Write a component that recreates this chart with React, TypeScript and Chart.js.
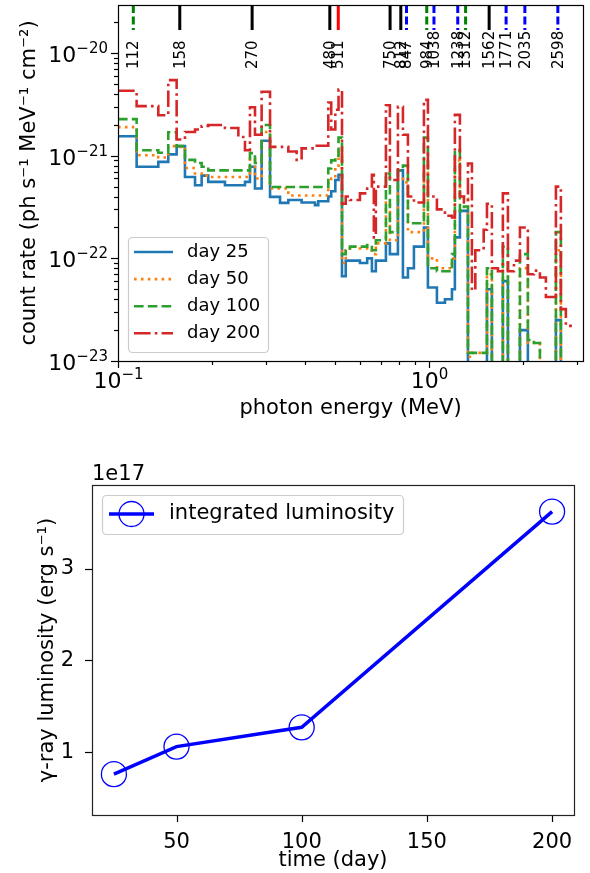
import React, { useEffect, useRef } from 'react';
import { Chart, registerables } from 'chart.js';

Chart.register(...registerables);

const FONT = '"DejaVu Sans", sans-serif';

// ---------- spectrum data (bin edges in MeV, count rates per bin) ----------
const binEdgesMeV = [
  0.1, 0.1148, 0.1348, 0.1451, 0.1544, 0.1642, 0.1769, 0.1858, 0.1951, 0.2208,
  0.2438, 0.2561, 0.2657, 0.2758, 0.2897, 0.3083, 0.332, 0.353, 0.3755, 0.3896,
  0.43, 0.4406, 0.4746, 0.485, 0.5, 0.512, 0.5253, 0.54, 0.557, 0.6,
  0.633, 0.6556, 0.665, 0.675, 0.7273, 0.749, 0.7949, 0.8249, 0.8559, 0.8948,
  0.9636, 0.9926, 1.061, 1.126, 1.186, 1.212, 1.258, 1.296, 1.335, 1.375,
  1.41, 1.5, 1.537, 1.594, 1.667, 1.729, 1.795, 1.877, 1.962, 2.081,
  2.176, 2.275, 2.378, 2.486, 2.561, 2.657, 2.757, 2.883,
];

const rateDay25 = [
  15.5e-22, 7.8e-22, 8.7e-22, 10.3e-22, 12.4e-22, 6.2e-22, 5.15e-22, 6.4e-22, 5.56e-22, 5.15e-22,
  5.15e-22, 5.56e-22, 7.8e-22, 4.8e-22, 14e-22, 3.97e-22, 3.47e-22, 3.7e-22, 3.7e-22, 3.5e-22,
  3.3e-22, 3.6e-22, 4.0e-22, 4.5e-22, 5.8e-22, 6.5e-22, 0.67e-22, 0.95e-22, 0.95e-22, 0.9e-22,
  1.0e-22, 0.75e-22, 0.75e-22, 0.95e-22, 1.4e-22, 1.1e-22, 7.2e-22, 0.65e-22, 0.8e-22, 1.3e-22,
  2.0e-22, 0.52e-22, 0.37e-22, 0.4e-22, 0.5e-22, 1.6e-22, 2.9e-22, 2.9e-22, 1e-24, 1e-24,
  1e-24, 1e-24, 0.5e-22, 1e-24, 1e-24, 0.6e-22, 1e-24, 1e-24, 0.2e-22, 1e-24,
  1e-24, 1e-24, 1e-24, 1e-24, 0.25e-22, 1e-24, 1e-24,
];

const rateDay50 = [
  19e-22, 10.1e-22, 9.6e-22, 12.4e-22, 12.2e-22, 7.6e-22, 6.7e-22, 6.4e-22, 6.2e-22, 6.2e-22,
  6.2e-22, 6.2e-22, 9.3e-22, 6.0e-22, 17e-22, 4.8e-22, 4.8e-22, 4.1e-22, 4.1e-22, 4.1e-22,
  4.1e-22, 4.1e-22, 5.5e-22, 6e-22, 8e-22, 11e-22, 0.9e-22, 1.2e-22, 1.3e-22, 1.25e-22,
  1.25e-22, 1.1e-22, 1.1e-22, 1.4e-22, 3.5e-22, 1.5e-22, 6.0e-22, 5.5e-22, 1.8e-22, 1.8e-22,
  8e-22, 1.0e-22, 0.8e-22, 0.8e-22, 1.0e-22, 9e-22, 4e-22, 3.8e-22, 0.11e-22, 0.12e-22,
  0.12e-22, 0.12e-22, 0.7e-22, 1e-24, 1e-24, 0.9e-22, 1e-24, 1e-24, 0.8e-22, 0.15e-22,
  0.15e-22, 1e-24, 1e-24, 1e-24, 1.2e-22, 1e-24, 1e-24,
];

const rateDay100 = [
  22.7e-22, 11.3e-22, 10.7e-22, 16.9e-22, 12.4e-22, 9.1e-22, 8.5e-22, 7.8e-22, 7.2e-22, 7.2e-22,
  7.2e-22, 7.2e-22, 10.6e-22, 8.5e-22, 19.9e-22, 4.96e-22, 4.96e-22, 4.96e-22, 4.96e-22, 4.96e-22,
  4.96e-22, 4.96e-22, 7.5e-22, 9e-22, 10e-22, 15e-22, 1.1e-22, 1.25e-22, 1.3e-22, 1.3e-22,
  1.35e-22, 1.2e-22, 1.2e-22, 1.5e-22, 6.7e-22, 1.8e-22, 7.2e-22, 8.0e-22, 2.2e-22, 2.2e-22,
  15e-22, 0.8e-22, 0.75e-22, 0.75e-22, 1.1e-22, 11.3e-22, 2.9e-22, 3.2e-22, 0.12e-22, 0.12e-22,
  0.12e-22, 0.12e-22, 0.8e-22, 1e-24, 1e-24, 1.3e-22, 1e-24, 1e-24, 1.1e-22, 0.16e-22,
  0.15e-22, 1e-24, 1e-24, 1e-24, 1.8e-22, 1e-24, 1e-24,
];

const rateDay200 = [
  42.9e-22, 30.4e-22, 24.8e-22, 54.5e-22, 14.4e-22, 17e-22, 18e-22, 19.5e-22, 19.9e-22, 18.6e-22,
  15.2e-22, 11.3e-22, 29.7e-22, 16e-22, 42e-22, 12.2e-22, 12.2e-22, 11e-22, 9.1e-22, 11.8e-22,
  12.5e-22, 12.5e-22, 33e-22, 18e-22, 28e-22, 44e-22, 3.4e-22, 4.0e-22, 3.7e-22, 4.3e-22,
  4.8e-22, 6.5e-22, 1.6e-22, 5.0e-22, 31e-22, 5.8e-22, 30e-22, 16e-22, 4.0e-22, 3.5e-22,
  35e-22, 4.0e-22, 3.0e-22, 2.6e-22, 2.5e-22, 25e-22, 4e-22, 3.5e-22, 8.4e-22, 0.49e-22,
  1.2e-22, 1.9e-22, 3.4e-22, 0.8e-22, 0.75e-22, 4.3e-22, 0.75e-22, 0.95e-22, 2.0e-22, 0.7e-22,
  0.76e-22, 0.65e-22, 0.42e-22, 0.42e-22, 5.0e-22, 0.32e-22, 0.22e-22,
];

const seriesLabels = ['day 25', 'day 50', 'day 100', 'day 200'];

// gamma-ray line markers (keV)
const lineEnergiesKeV = [112, 158, 270, 480, 511, 750, 812, 847, 984, 1038, 1238, 1312, 1562, 1771, 2035, 2598];
const lineColors = ['#008000', '#000', '#000', '#000', '#ff0000', '#000', '#000', '#0000ff', '#008000', '#0000ff', '#0000ff', '#008000', '#000', '#0000ff', '#0000ff', '#0000ff'];
const lineDashed = [true, false, false, false, false, false, false, true, true, true, true, true, false, true, true, true];

// ---------- luminosity data ----------
const days = [25, 50, 100, 200];
const luminosity = [0.76e17, 1.06e17, 1.27e17, 3.62e17];
const dayTicks = [50, 100, 150, 200];
const lumTicks = [1e17, 2e17, 3e17];

// ---------- styles ----------
const seriesStyles = [
  { color: '#1f77b4', dash: [] as number[] },
  { color: '#ff7f0e', dash: [2.6, 4.3] },
  { color: '#2ca02c', dash: [9.6, 4.2] },
  { color: '#d62728', dash: [16.6, 4.2, 2.6, 4.2] },
];
const LW = 2.6;

function stepPoints(edges: number[], vals: number[]) {
  return edges.map((x, i) => ({ x, y: vals[Math.min(i, vals.length - 1)] }));
}

function logTicks(min: number, max: number) {
  const out: { v: number; major: boolean }[] = [];
  for (let e = Math.floor(Math.log10(min)); e <= Math.ceil(Math.log10(max)); e++) {
    for (let m = 1; m <= 9; m++) {
      const v = m * Math.pow(10, e);
      if (v >= min * (1 - 1e-9) && v <= max * (1 + 1e-9)) out.push({ v, major: m === 1 });
    }
  }
  return out;
}

function drawPow10(ctx: CanvasRenderingContext2D, exp: number, x: number, baseline: number, align: 'right' | 'center') {
  const base = '10';
  const ex = exp < 0 ? '\u2212' + Math.abs(exp) : String(exp);
  const bf = `22px ${FONT}`;
  const sf = `15px ${FONT}`;
  ctx.font = bf;
  const wb = ctx.measureText(base).width;
  ctx.font = sf;
  const ws = ctx.measureText(ex).width;
  const total = wb + ws;
  const x0 = align === 'right' ? x - total : x - total / 2;
  ctx.textAlign = 'left';
  ctx.textBaseline = 'alphabetic';
  ctx.fillStyle = '#000';
  ctx.font = bf;
  ctx.fillText(base, x0, baseline);
  ctx.font = sf;
  ctx.fillText(ex, x0 + wb, baseline - 9.5);
}

function drawFrame(ctx: CanvasRenderingContext2D, a: any, color: string) {
  ctx.save();
  ctx.strokeStyle = color;
  ctx.lineWidth = 1.2;
  ctx.setLineDash([]);
  ctx.strokeRect(Math.round(a.left) + 0.5, Math.round(a.top) + 0.5, Math.round(a.right - a.left), Math.round(a.bottom - a.top));
  ctx.restore();
}

function legendBox(ctx: CanvasRenderingContext2D, x: number, y: number, w: number, h: number) {
  ctx.save();
  ctx.beginPath();
  (ctx as any).roundRect(x + 0.5, y + 0.5, w, h, 4);
  ctx.fillStyle = 'rgba(255,255,255,0.8)';
  ctx.fill();
  ctx.strokeStyle = '#cccccc';
  ctx.lineWidth = 1.2;
  ctx.stroke();
  ctx.restore();
}

const X_MIN = 0.1, X_MAX = 3.13, Y_MIN = 1e-23, Y_MAX = 2.94e-20;

const topDecor = {
  id: 'topDecor',
  afterDraw(chart: any) {
    const { ctx, chartArea: a, scales } = chart;
    const xs = scales.x, ys = scales.y;
    ctx.save();
    ctx.strokeStyle = '#000';
    ctx.lineWidth = 1.2;
    logTicks(X_MIN, X_MAX).forEach(({ v, major }) => {
      const px = Math.round(xs.getPixelForValue(v)) + 0.5;
      ctx.beginPath();
      ctx.moveTo(px, a.bottom);
      ctx.lineTo(px, a.bottom + (major ? 7 : 4));
      ctx.stroke();
      if (major) drawPow10(ctx, Math.round(Math.log10(v)), px, a.bottom + 27, 'center');
    });
    logTicks(Y_MIN, Y_MAX).forEach(({ v, major }) => {
      const py = Math.round(ys.getPixelForValue(v)) + 0.5;
      ctx.beginPath();
      ctx.moveTo(a.left, py);
      ctx.lineTo(a.left - (major ? 7 : 4), py);
      ctx.stroke();
      if (major) drawPow10(ctx, Math.round(Math.log10(v)), a.left - 10, py + 8.5, 'right');
    });
    lineEnergiesKeV.forEach((k, i) => {
      const px = xs.getPixelForValue(k / 1000);
      ctx.beginPath();
      ctx.strokeStyle = lineColors[i];
      ctx.lineWidth = 3;
      ctx.setLineDash(lineDashed[i] ? [8, 3.5] : []);
      ctx.moveTo(px, a.top);
      ctx.lineTo(px, a.top + 25);
      ctx.stroke();
      ctx.save();
      ctx.translate(px + 1, a.top + 64);
      ctx.rotate(-Math.PI / 2);
      ctx.fillStyle = '#000';
      ctx.font = `15px ${FONT}`;
      ctx.textAlign = 'left';
      ctx.textBaseline = 'middle';
      ctx.fillText(String(k), 0, 0);
      ctx.restore();
    });
    ctx.setLineDash([]);
    drawFrame(ctx, a, '#000');
    const fx = a.left + 10, fy = a.bottom - 124;
    legendBox(ctx, fx, fy, 140, 115);
    seriesLabels.forEach((lab, i) => {
      const y = fy + 15 + i * 27.1;
      ctx.strokeStyle = seriesStyles[i].color;
      ctx.lineWidth = LW;
      ctx.setLineDash(seriesStyles[i].dash);
      ctx.beginPath();
      ctx.moveTo(fx + 6, y);
      ctx.lineTo(fx + 45, y);
      ctx.stroke();
      ctx.setLineDash([]);
      ctx.fillStyle = '#000';
      ctx.font = `18px ${FONT}`;
      ctx.textAlign = 'left';
      ctx.textBaseline = 'middle';
      ctx.fillText(lab, fx + 59, y);
    });
    ctx.restore();
  },
};

const botDecor = {
  id: 'botDecor',
  afterDraw(chart: any) {
    const { ctx, chartArea: a, scales } = chart;
    ctx.save();
    ctx.strokeStyle = '#000';
    ctx.lineWidth = 1.2;
    scales.x.ticks.forEach((t: any) => {
      const px = Math.round(scales.x.getPixelForValue(t.value)) + 0.5;
      ctx.beginPath();
      ctx.moveTo(px, a.bottom);
      ctx.lineTo(px, a.bottom + 7);
      ctx.stroke();
    });
    scales.y.ticks.forEach((t: any) => {
      const py = Math.round(scales.y.getPixelForValue(t.value)) + 0.5;
      ctx.beginPath();
      ctx.moveTo(a.left, py);
      ctx.lineTo(a.left - 7, py);
      ctx.stroke();
    });
    drawFrame(ctx, a, '#222');
    ctx.fillStyle = '#000';
    ctx.font = `21px ${FONT}`;
    ctx.textAlign = 'left';
    ctx.textBaseline = 'alphabetic';
    ctx.fillText('1e17', a.left, a.top - 5);
    const fx = a.left + 10, fy = a.top + 10;
    legendBox(ctx, fx, fy, 301, 39);
    const y = fy + 19;
    ctx.strokeStyle = '#0000ff';
    ctx.lineWidth = 3.5;
    ctx.beginPath();
    ctx.moveTo(fx + 7, y);
    ctx.lineTo(fx + 52, y);
    ctx.stroke();
    ctx.lineWidth = 1.3;
    ctx.beginPath();
    ctx.arc(fx + 29.5, y, 12.5, 0, Math.PI * 2);
    ctx.stroke();
    ctx.fillStyle = '#000';
    ctx.font = `21px ${FONT}`;
    ctx.textBaseline = 'middle';
    ctx.fillText('integrated luminosity', fx + 67, y);
    ctx.restore();
  },
};

export default function App() {
  const topRef = useRef<HTMLCanvasElement>(null);
  const botRef = useRef<HTMLCanvasElement>(null);

  useEffect(() => {
    const rates = [rateDay25, rateDay50, rateDay100, rateDay200];
    const c1 = new Chart(topRef.current as HTMLCanvasElement, {
      type: 'line',
      data: {
        datasets: rates.map((r, i) => ({
          label: seriesLabels[i],
          data: stepPoints(binEdgesMeV, r),
          borderColor: seriesStyles[i].color,
          borderDash: seriesStyles[i].dash,
          borderWidth: LW,
          pointRadius: 0,
          stepped: true,
          fill: false,
          clip: 1,
          order: 3 - i,
        })) as any,
      },
      options: {
        animation: false,
        responsive: false,
        maintainAspectRatio: false,
        devicePixelRatio: 1,
        events: [],
        layout: { padding: { top: 5, right: 7, left: 0, bottom: 0 } },
        plugins: { legend: { display: false }, tooltip: { enabled: false } },
        scales: {
          x: {
            type: 'logarithmic',
            min: X_MIN,
            max: X_MAX,
            bounds: 'data',
            grid: { display: false },
            border: { display: false },
            ticks: { display: false },
            title: {
              display: true,
              text: 'photon energy (MeV)',
              color: '#000',
              font: { family: FONT, size: 21 },
              padding: { top: 0, bottom: 9 },
            },
            afterFit: (s: any) => { s.height = 69; },
          },
          y: {
            type: 'logarithmic',
            min: Y_MIN,
            max: Y_MAX,
            bounds: 'data',
            grid: { display: false },
            border: { display: false },
            ticks: { display: false },
            title: {
              display: true,
              text: 'count rate (ph s\u207B\u00B9 MeV\u207B\u00B9 cm\u207B\u00B2)',
              color: '#000',
              font: { family: FONT, size: 21 },
              padding: { top: 17, bottom: 0 },
            },
            afterFit: (s: any) => { s.width = 118; },
          },
        },
      } as any,
      plugins: [topDecor],
    });

    const c2 = new Chart(botRef.current as HTMLCanvasElement, {
      type: 'line',
      data: {
        datasets: [
          {
            label: 'integrated luminosity',
            data: days.map((d, i) => ({ x: d, y: luminosity[i] })),
            borderColor: '#0000ff',
            borderWidth: 3.5,
            pointRadius: 12.5,
            pointBorderWidth: 1.3,
            pointBorderColor: '#0000ff',
            pointBackgroundColor: 'rgba(0,0,0,0)',
            tension: 0,
            fill: false,
          },
        ] as any,
      },
      options: {
        animation: false,
        responsive: false,
        maintainAspectRatio: false,
        devicePixelRatio: 1,
        events: [],
        layout: { padding: { top: 55, right: 16, left: 0, bottom: 0 } },
        plugins: { legend: { display: false }, tooltip: { enabled: false } },
        scales: {
          x: {
            type: 'linear',
            min: 16.25,
            max: 208.75,
            bounds: 'data',
            grid: { display: false },
            border: { display: false },
            afterBuildTicks: (s: any) => { s.ticks = dayTicks.map((v) => ({ value: v })); },
            ticks: {
              color: '#000',
              font: { family: FONT, size: 21 },
              padding: 7,
              maxRotation: 0,
              autoSkip: false,
            },
            title: {
              display: true,
              text: 'time (day)',
              color: '#000',
              font: { family: FONT, size: 21 },
              padding: { top: 0, bottom: 0 },
            },
            afterFit: (s: any) => { s.height = 58; },
          },
          y: {
            type: 'linear',
            min: 0.315e17,
            max: 3.91e17,
            bounds: 'data',
            grid: { display: false },
            border: { display: false },
            afterBuildTicks: (s: any) => {
              s.ticks = lumTicks.map((v) => ({ value: v }));
              s.min = 0.315e17;
              s.max = 3.91e17;
            },
            ticks: {
              color: '#000',
              font: { family: FONT, size: 21 },
              padding: 10,
              autoSkip: false,
              callback: (v: any) => String(Math.round(Number(v) / 1e17)),
            },
            title: {
              display: true,
              text: '\u03B3-ray luminosity (erg s\u207B\u00B9)',
              color: '#000',
              font: { family: FONT, size: 21 },
              padding: { top: 35, bottom: 0 },
            },
            afterFit: (s: any) => { s.width = 92; },
          },
        },
      } as any,
      plugins: [botDecor],
    });

    return () => {
      c1.destroy();
      c2.destroy();
    };
  }, []);

  return (
    <div style={{ position: 'absolute', left: 0, top: 0, width: 590, height: 873, background: '#fff' }}>
      <canvas
        ref={topRef}
        width={590}
        height={430}
        style={{ position: 'absolute', left: 0, top: 0, width: 590, height: 430 }}
      />
      <canvas
        ref={botRef}
        width={590}
        height={443}
        style={{ position: 'absolute', left: 0, top: 430, width: 590, height: 443 }}
      />
    </div>
  );
}
